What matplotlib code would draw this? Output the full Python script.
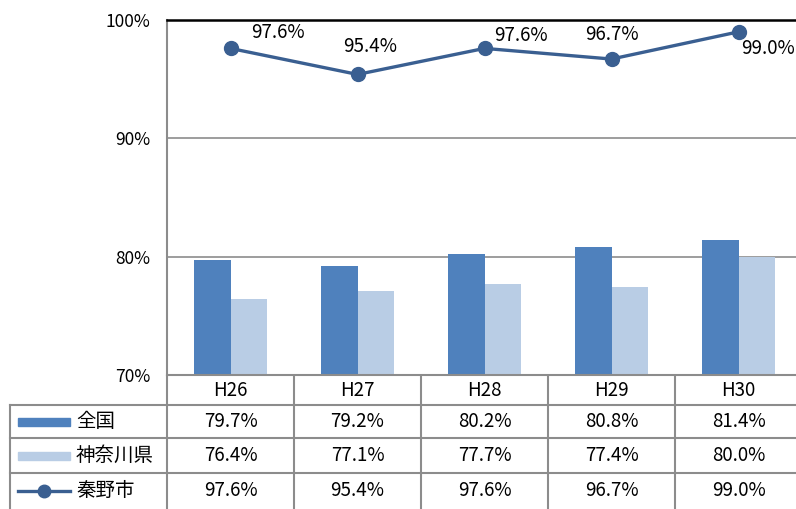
import matplotlib.pyplot as plt
from matplotlib.patches import Rectangle

plt.rcParams['font.family'] = ['Noto Sans CJK JP', 'DejaVu Sans']

years = ["H26", "H27", "H28", "H29", "H30"]
zenkoku = [79.7, 79.2, 80.2, 80.8, 81.4]
kanagawa = [76.4, 77.1, 77.7, 77.4, 80.0]
hadano = [97.6, 95.4, 97.6, 96.7, 99.0]
series_names = ["全国", "神奈川県", "秦野市"]

C_ZEN = "#4F81BD"
C_KAN = "#B9CDE5"
C_HAD = "#3A5F91"
C_GRID = "#8C8C8C"
FS = 13.5

W, H = 796, 509
fig = plt.figure(figsize=(W / 100, H / 100), dpi=100)

# plot area in pixels: x 167..802 (cropped at 796), y 20..375
ax = fig.add_axes([167 / W, (H - 375) / H, (802 - 167) / W, (375 - 20) / H])
x = list(range(len(years)))
bw = 0.29
ax.bar([i - bw / 2 for i in x], zenkoku, bw, color=C_ZEN, zorder=2)
ax.bar([i + bw / 2 for i in x], kanagawa, bw, color=C_KAN, zorder=2)
ax.plot(x, hadano, color=C_HAD, lw=2.4, marker="o", ms=10, zorder=3)

offsets = [(47, 16), (13, 28), (36, 13), (0, 25), (29, -17)]
for i, v in enumerate(hadano):
    ax.annotate(f"{v:.1f}%", (i, v), xytext=offsets[i], textcoords="offset pixels",
                ha="center", va="center", fontsize=FS, zorder=4)

ax.set_xlim(-0.5, 4.5)
ax.set_ylim(70, 100)
ax.set_yticks([70, 80, 90, 100])
ax.set_yticklabels(["70%", "80%", "90%", "100%"], fontsize=12.5)
ax.tick_params(axis="y", length=0, pad=12)
ax.set_xticks([])
for y in (80, 90):
    ax.axhline(y, color=C_GRID, lw=1.2, zorder=1)
ax.spines["top"].set_color("black")
ax.spines["top"].set_linewidth(1.8)
ax.spines["left"].set_color(C_GRID)
ax.spines["left"].set_linewidth(1.5)
ax.spines["bottom"].set_color(C_GRID)
ax.spines["bottom"].set_linewidth(1.5)
ax.spines["right"].set_visible(False)

# data table below the plot (y in pixels below the plot bottom)
tx = fig.add_axes([0, 0, 802 / W, (H - 375) / H])
tx.set_xlim(-0.5 - 167 / 127, 4.5)
tx.set_ylim(H - 375, 0)
tx.axis("off")

rows = [0, 30, 63, 98, 134]
lc = "#8C8C8C"
xl = -0.5 - (167 - 10) / 127
for b in [0.5, 1.5, 2.5, 3.5]:
    tx.plot([b, b], [0, 134], color=lc, lw=1.5)
tx.plot([-0.5, -0.5], [0, 134], color=lc, lw=1.5)
tx.plot([xl, xl], [rows[1], 134], color=lc, lw=1.5)
for r in rows[1:4]:
    tx.plot([xl, 4.6], [r, r], color=lc, lw=1.5)

mids = [(rows[k] + rows[k + 1]) / 2 for k in range(4)]
for i, yr in enumerate(years):
    tx.text(i, mids[0], yr, ha="center", va="center", fontsize=FS)
for r, vals in enumerate([zenkoku, kanagawa, hadano], start=1):
    for i, v in enumerate(vals):
        tx.text(i, mids[r], f"{v:.1f}%", ha="center", va="center", fontsize=FS)

x0 = -0.5 - (167 - 18) / 127
x1 = -0.5 - (167 - 70) / 127
xt = -0.5 - (167 - 76) / 127
ph = 8
tx.add_patch(Rectangle((x0, mids[1] - ph / 2), x1 - x0, ph, color=C_ZEN))
tx.add_patch(Rectangle((x0, mids[2] - ph / 2), x1 - x0, ph, color=C_KAN))
tx.plot([x0, x1], [mids[3], mids[3]], color=C_HAD, lw=2.4)
tx.plot([(x0 + x1) / 2], [mids[3]], color=C_HAD, marker="o", ms=9)
for r, name in enumerate(series_names, start=1):
    tx.text(xt, mids[r], name, ha="left", va="center", fontsize=14)

fig.savefig("out.png", dpi=100)
